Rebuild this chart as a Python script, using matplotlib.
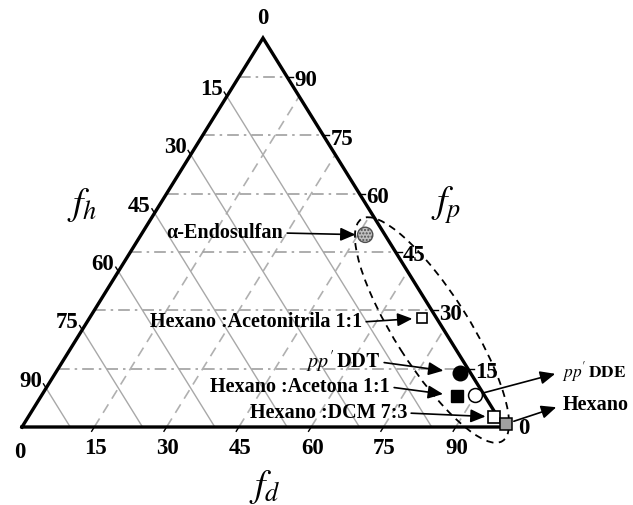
import numpy as np
import matplotlib.pyplot as plt
from matplotlib.patches import Ellipse

plt.rcParams.update({
    'font.family': 'Liberation Serif',
    'mathtext.fontset': 'stix',
})

# triangle size in pixels (width, height) - the original is not equilateral
W, H = 482.0, 389.0

ticks = [15, 30, 45, 60, 75, 90]

names = ['α-Endosulfan', 'Hexano :Acetonitrila 1:1', "pp' DDT",
         'Hexano :Acetona 1:1', "pp' DDE", 'Hexano :DCM 7:3', 'Hexano']
fd = [46.5, 69.0, 83.9, 86.2, 89.9, 96.6, 100.0]
fp = [49.4, 28.0, 13.9, 8.0, 8.2, 2.6, 0.8]
fh = [4.1, 3.0, 2.2, 5.8, 1.9, 0.8, 0.0]


def tern(d, p):
    d = np.asarray(d, dtype=float)
    p = np.asarray(p, dtype=float)
    return (d + p / 2) / 100 * W, p / 100 * H


fig = plt.figure(figsize=(6.33, 5.05), dpi=100)
ax = fig.add_axes([0, 0, 1, 1])
ax.set_xlim(-22, 611)
ax.set_ylim(-78, 427)
ax.axis('off')

# grid
for v in ticks:
    x, y = tern([0, 100 - v], [v, v])
    ax.plot(x, y, color='#a0a0a0', lw=1.2, ls=(0, (7, 3, 1.5, 3)), zorder=1)
    x, y = tern([0, 100 - v], [100 - v, 0])
    ax.plot(x, y, color='#a8a8a8', lw=1.0, ls='-', zorder=1)
    x, y = tern([v, v], [0, 100 - v])
    ax.plot(x, y, color='#b0b0b0', lw=1.2, ls=(0, (6, 4)), zorder=1)

# outline
x, y = tern([0, 100, 0, 0], [0, 0, 100, 0])
ax.plot(x, y, color='black', lw=2.4, solid_joinstyle='miter', zorder=3)

# ticks and labels
ux, uy = 241 / np.hypot(241, 389), 389 / np.hypot(241, 389)
lab = dict(fontsize=16.5, fontweight='bold', zorder=4)
for v in ticks:
    x, y = tern(0, 100 - v)  # left edge, fh = v
    ax.plot([x, x - 5 * ux], [y, y + 5 * uy], color='black', lw=1)
    ax.text(x - 4, y + 7, str(v), ha='right', va='center', **lab)
    x, y = tern(v, 0)  # bottom, fd = v
    ax.plot([x, x - 5 * ux], [y, y - 5 * uy], color='black', lw=1)
    ax.text(x + 1, y - 22, str(v), ha='center', va='center', **lab)
    x, y = tern(100 - v, v)  # right edge, fp = v
    ax.plot([x, x + 6], [y, y], color='black', lw=1)
    ax.text(x + 7, y - 4, str(v), ha='left', va='center', **lab)
x, y = tern(0, 0)
ax.text(x - 2, y - 25, '0', ha='center', va='center', **lab)
x, y = tern(0, 100)
ax.text(x, y + 20, '0', ha='center', va='center', **lab)
x, y = tern(100, 0)
ax.text(x + 20, y - 2, '0', ha='center', va='center', **lab)

ax.text(60, 222, r'$f_h$', fontsize=27, ha='center', va='center')
ax.text(424, 222, r'$f_p$', fontsize=27, ha='center', va='center')
ax.text(243, -60, r'$f_d$', fontsize=27, ha='center', va='center')

# dashed ellipse round the points
ax.add_patch(Ellipse((410, 97), 263, 74, angle=-57.6, fill=False,
                     ls=(0, (4, 3)), lw=1.3, color='black', zorder=2))

# points
px, py = tern(fd, fp)
ax.scatter(px[0], py[0], s=120, marker='o', facecolor='#c0c0c0',
           edgecolor='#505050', hatch='.....', lw=1, zorder=5)
ax.plot(px[1], py[1], 's', ms=7, mfc='white', mec='black', mew=1.2, zorder=5)
ax.plot(px[2], py[2], 'o', ms=10.5, mfc='black', mec='black', zorder=5)
ax.plot(px[3], py[3], 's', ms=9, mfc='black', mec='black', zorder=5)
ax.plot(px[4], py[4], 'o', ms=10, mfc='white', mec='black', mew=1.1, zorder=5)
ax.plot(px[5], py[5], 's', ms=9, mfc='white', mec='black', mew=1.2, zorder=5)
ax.plot(px[6], py[6], 's', ms=8, mfc='#a0a0a0', mec='black', mew=1.1, zorder=6)

arrow = dict(arrowstyle='-|>,head_length=0.45,head_width=0.2',
             color='black', lw=1.2, mutation_scale=20)
txt = dict(fontsize=14.5, fontweight='bold', va='center', zorder=6)

left_labels = [
    (0, names[0], (261, 194), 7),
    (1, names[1], (340, 105), 7),
    (2, r"$\mathit{pp}'\,\mathbf{DDT}$", (358, 65), 12),
    (3, names[3], (368, 40), 10),
    (5, names[5], (385, 14), 6),
]
for i, s, pos, shr in left_labels:
    ax.annotate(s, xy=(px[i], py[i]), xytext=pos, ha='right',
                arrowprops=dict(arrow, relpos=(1, 0.5), shrinkA=1, shrinkB=shr),
                **txt)

right_labels = [
    (4, r"$\mathit{pp}'\,\mathbf{DDE}$", (540, 55), 12.5),
    (6, names[6], (541, 22), 14.5),
]
for i, s, pos, size in right_labels:
    ax.annotate(s, xy=(px[i], py[i]), xytext=pos, ha='left',
                arrowprops=dict(arrow, arrowstyle='<|-,head_length=0.45,head_width=0.2',
                                relpos=(0, 0.5), shrinkA=3, shrinkB=6),
                **dict(txt, fontsize=size))

plt.savefig('out.png', dpi=100)
